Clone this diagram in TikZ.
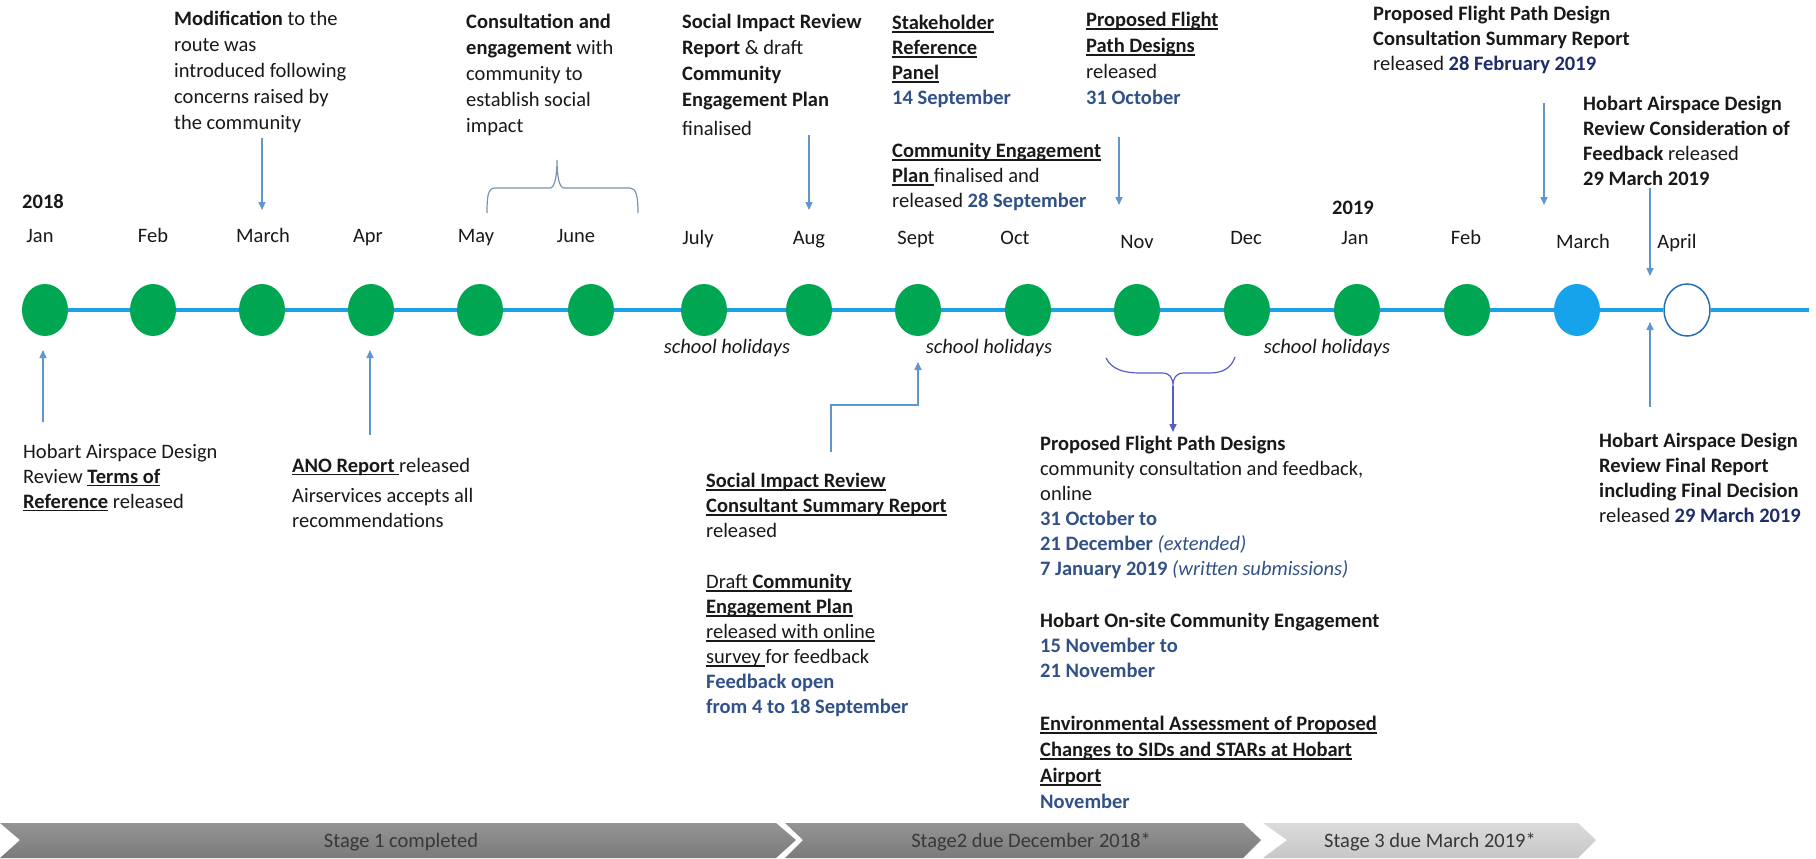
\documentclass[tikz,border=0pt]{standalone}
\usepackage{fontspec}
\setmainfont{Carlito}
\usetikzlibrary{arrows.meta,shapes.geometric}

\definecolor{txt}{RGB}{25,25,25}
\definecolor{dotgreen}{RGB}{0,166,81}
\definecolor{marchblue}{RGB}{22,163,236}
\definecolor{aprilring}{RGB}{40,110,180}
\definecolor{linecol}{RGB}{28,160,230}
\definecolor{arrowcol}{RGB}{95,150,205}
\definecolor{bracecol}{RGB}{85,95,195}
\definecolor{topbrace}{RGB}{120,150,175}
\definecolor{datecol}{RGB}{50,82,135}
\definecolor{navy}{RGB}{30,45,105}

\newcommand{\undl}[1]{\setbox0=\hbox{#1}\rlap{\rule[-3pt]{\wd0}{1.1pt}}\box0\relax}
\newcommand{\ulb}[1]{\undl{\textbf{#1}}}
\newcommand{\datetxt}[1]{\textcolor{datecol}{\textbf{#1}}}

\tikzset{
  month/.style={anchor=base, inner sep=0, text=txt, font=\fontsize{20.5}{24}\selectfont},
  dot/.style={ellipse, fill=dotgreen, inner sep=0, minimum width=46pt, minimum height=52pt},
  tline/.style={draw=linecol, line width=4pt},
  note/.style={anchor=north west, align=left, inner sep=0, text=txt,
    font=\fontsize{20.5}{25}\selectfont, execute at begin node={\rule{0pt}{15pt}}},
  topnote/.style={note, font=\fontsize{20.5}{26}\selectfont},
  hol/.style={month, font=\fontsize{20.5}{24}\selectfont\itshape},
  arr/.style={draw=arrowcol, line width=1.5pt, -{Triangle[length=8pt,width=7pt]}},
  bracepath/.style={draw=topbrace, line width=1.2pt},
  stagebar/.style={top color=black!42, middle color=black!20, bottom color=black!52},
  stagetxt/.style={month, text=black!78},
}

\begin{document}
\begin{tikzpicture}[x=1pt,y=-1pt]
	\fill[white] (0,0) rectangle (1816,859);
	\useasboundingbox (0,0) rectangle (1816,859);
	% months
	\foreach \x [count=\i] in {45,153,262,371,480,591,704,809,918,1028,1137,1247,1357,1467}
		\node[dot] (\i) at (\x,310) {};
	\node[dot,fill=marchblue] (15) at (1577,310) {};
	\node[dot,fill=white,draw=aprilring,line width=1.5pt] (16) at (1687,310) {};
	\coordinate (lineend) at (1809,310);
	\foreach \i [evaluate=\i as \j using int(\i+1)] in {1,...,15}
		\draw[tline] (\i) -- (\j);
	\draw[tline] (16) -- (lineend);
	\foreach \x/\y/\m [count=\i] in {40/242/Jan,153/242/Feb,263/242/March,368/242/Apr,476/242/May,576/242/June,698/244/July,809/244/Aug,916/244/Sept,1015/244/Oct,1137/248/Nov,1246/244/Dec,1355/244/Jan,1466/244/Feb,1583/248/March,1677/248/April}
		\node[month] (l\i) at (\x,\y) {\m};
	\node[month,font=\fontsize{20.5}{24}\selectfont\bfseries] (y18) at (43,208) {2018};
	\node[month,font=\fontsize{20.5}{24}\selectfont\bfseries] (y19) at (1353,214) {2019};
	\foreach \x [count=\i] in {727,989,1327}
		\node[hol] (h\i) at (\x,353) {school holidays};

	% above the line
	\node[topnote] (modif) at (174,11) {\textbf{Modification} to the\\route was\\introduced following\\concerns raised by\\the community};
	\node[topnote] (consult) at (466,14) {\textbf{Consultation and}\\\textbf{engagement} with\\community to\\establish social\\impact};
	\node[topnote] (sirtop) at (682,14) {\textbf{Social Impact Review}\\\textbf{Report} \& draft\\\textbf{Community}\\\textbf{Engagement Plan}\\[3pt]finalised};
	\node[note] (stake) at (892,15) {\ulb{Stakeholder}\\\ulb{Reference}\\\ulb{Panel}\\\datetxt{14 September}};
	\node[note] (cepfin) at (892,143) {\ulb{Community Engagement}\\\undl{\textbf{Plan}\ }finalised and\\released \datetxt{28 September}};
	\node[topnote] (pfpdtop) at (1086,12) {\ulb{Proposed Flight}\\\ulb{Path Designs}\\released\\\datetxt{31 October}};
	\node[note] (pfsum) at (1373,6) {\textbf{Proposed Flight Path Design}\\\textbf{Consultation Summary Report}\\released \textcolor{navy}{\textbf{28 February 2019}}};
	\node[note] (hadcon) at (1583,96) {\textbf{Hobart Airspace Design}\\\textbf{Review Consideration of}\\\textbf{Feedback} released\\\textbf{29 March 2019}};

	% below the line
	\node[note] (tor) at (23,444) {Hobart Airspace Design\\Review \ulb{Terms of}\\\ulb{Reference} released};
	\node[note] (ano) at (292,458) {\undl{\textbf{ANO Report}\ }released\\[5pt]Airservices accepts all\\recommendations};
	\node[note] (sirbot) at (706,473) {\ulb{Social Impact Review}\\\ulb{Consultant Summary Report}\\released\\[26pt]\undl{Draft \textbf{Community}}\\\ulb{Engagement Plan}\\\undl{released with online}\\\undl{survey\ }for feedback\\\datetxt{Feedback open}\\\datetxt{from 4 to 18 September}};
	\node[note] (pfpdbot) at (1040,436) {\textbf{Proposed Flight Path Designs}\\community consultation and feedback,\\online\\\datetxt{31 October to}\\\datetxt{21 December} \textcolor{datecol}{\textit{(extended)}}\\\datetxt{7 January 2019} \textcolor{datecol}{\textit{(written submissions)}}\\[27pt]\textbf{Hobart On-site Community Engagement}\\\datetxt{15 November to}\\\datetxt{21 November}};
	\node[note,font=\fontsize{20.5}{26}\selectfont] (env) at (1040,716) {\ulb{Environmental Assessment of Proposed}\\\ulb{Changes to SIDs and STARs at Hobart}\\\ulb{Airport}\\\datetxt{November}};
	\node[note] (hadfin) at (1599,433) {\textbf{Hobart Airspace Design}\\\textbf{Review Final Report}\\\textbf{including Final Decision}\\released \textcolor{navy}{\textbf{29 March 2019}}};

	% arrows
	\coordinate (a1s) at (262,138);  \coordinate (a1e) at (262,210);
	\coordinate (a2s) at (809,135);  \coordinate (a2e) at (809,210);
	\coordinate (a3s) at (1119,137); \coordinate (a3e) at (1119,205);
	\coordinate (a4s) at (1544,103); \coordinate (a4e) at (1544,205);
	\coordinate (a5s) at (1650,188); \coordinate (a5e) at (1650,276);
	\coordinate (a6s) at (43,422);   \coordinate (a6e) at (43,350);
	\coordinate (a7s) at (370,435);  \coordinate (a7e) at (370,350);
	\coordinate (a8s) at (831,452);  \coordinate (a8m) at (918,405); \coordinate (a8e) at (918,362);
	\coordinate (a9s) at (1650,407); \coordinate (a9e) at (1650,322);
	\coordinate (bcusp) at (1173,386); \coordinate (bend) at (1173,432);
	\foreach \i in {1,...,7,9}
		\draw[arr] (a\i s) -- (a\i e);
	\draw[arr] (a8s) |- (a8m) -- (a8e);

	% braces
	\draw[bracepath] (487,213) .. controls (487,196) and (488,188) .. (495,188) -- (550,188)
		.. controls (555,188) and (557,175) .. (557,160) .. controls (557,175) and (559,188) .. (564,188)
		-- (630,188) .. controls (636,188) and (638,196) .. (638,213);
	\draw[draw=bracecol,line width=1.2pt] (1106,358) .. controls (1112,370) and (1125,373) .. (1140,373) -- (1162,373)
		.. controls (1170,373) and (1173,378) .. (bcusp) .. controls (1173,378) and (1176,373) .. (1184,373)
		-- (1210,373) .. controls (1225,373) and (1232,366) .. (1235,357);
	\draw[draw=bracecol,line width=1.5pt,-{Triangle[length=8pt,width=7pt]}] (bcusp) -- (bend);

	% stages
	\shade[stagebar] (0,823) -- (776,823) -- (796,840) -- (776,858) -- (0,858) -- (20,840) -- cycle;
	\shade[stagebar] (785,823) -- (1243,823) -- (1261,840) -- (1243,858) -- (785,858) -- (803,840) -- cycle;
	\shade[top color=black!14,middle color=black!3,bottom color=black!22] (1263,823) -- (1578,823) -- (1596,840) -- (1578,858) -- (1263,858) -- (1287,840) -- cycle;
	\node[stagetxt] (st1) at (401,847) {Stage 1 completed};
	\node[stagetxt] (st2) at (1031,847) {Stage2 due December 2018*};
	\node[stagetxt] (st3) at (1430,847) {Stage 3 due March 2019*};
\end{tikzpicture}
\end{document}
